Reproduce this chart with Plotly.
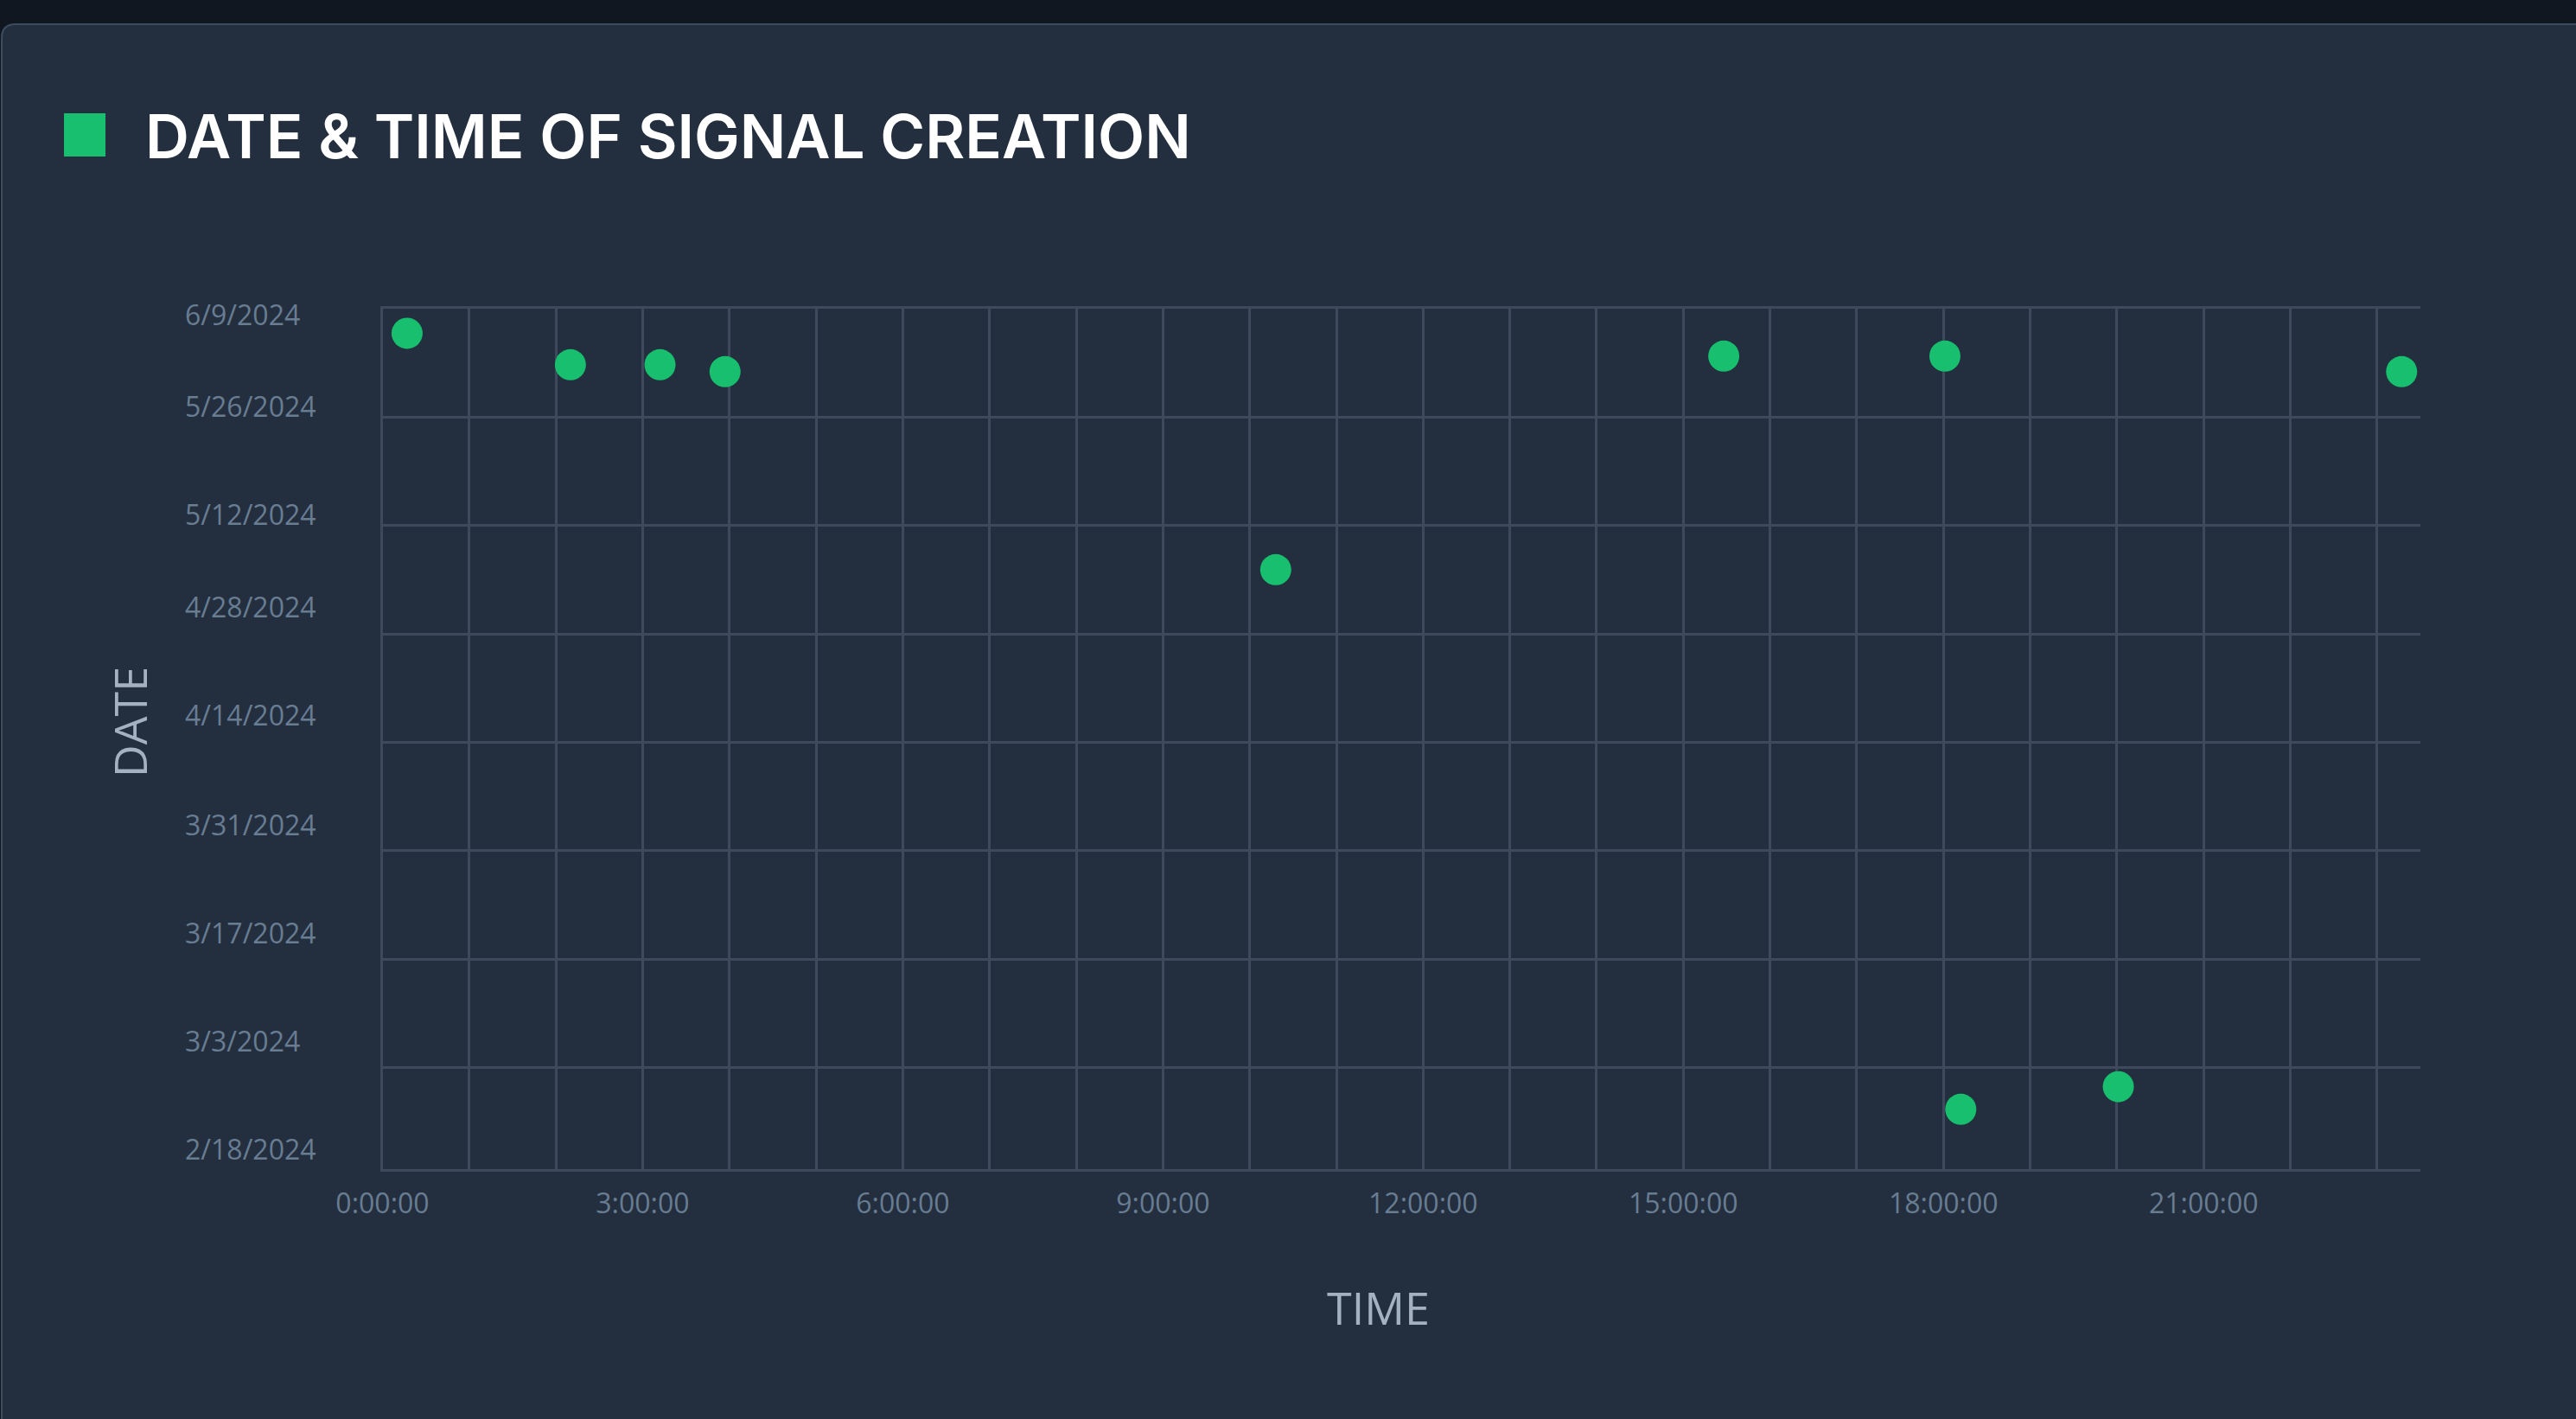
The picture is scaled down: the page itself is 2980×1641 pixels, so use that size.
import pandas as pd
import plotly.graph_objects as go

# ---------------- data ----------------
signal_times = ["00:17", "02:10", "03:12", "03:57", "10:18",
                "15:28", "18:01", "23:17", "18:12", "20:01"]
signal_dates = ["2024-06-05 19:40", "2024-06-01 18:20", "2024-06-01 18:20",
                "2024-05-31 20:50", "2024-05-06 07:10", "2024-06-02 21:05",
                "2024-06-02 21:05", "2024-05-31 20:50", "2024-02-26 15:00",
                "2024-02-29 13:10"]
date_tick_values = ["2024-02-18", "2024-03-03", "2024-03-17", "2024-03-31",
                    "2024-04-14", "2024-04-28", "2024-05-12", "2024-05-26",
                    "2024-06-09"]
date_tick_labels = ["2/18/2024", "3/3/2024", "3/17/2024", "3/31/2024",
                    "4/14/2024", "4/28/2024", "5/12/2024", "5/26/2024",
                    "6/9/2024"]
title_text = "DATE & TIME OF SIGNAL CREATION"
x_title = "TIME"
y_title = "DATE"

# ---------------- styling ----------------
W, H = 2980, 1641
ML, MR, MT, MB = 200, 180, 357, 289
PW, PH = W - ML - MR, H - MT - MB

def X(px):
    return (px - ML) / PW

def Y(py):
    return (H - MB - py) / PH

PAGE_BG = "#101720"
CARD_BG = "#232f3e"
CARD_BORDER = "#3b4c5f"
GRID = "#3e4a5c"
GREEN = "#17bf6f"
TICK_COLOR = "#687c92"
TITLE_COLOR = "#a3b1c0"

# visual offsets (days) of the date labels relative to their grid lines
label_offset_days = [3.33, 3.36, 3.32, 3.28, 3.38, 3.42, 1.29, 1.26, -0.84]

base_day = "2024-01-01 "
x_vals = [base_day + t for t in signal_times]
y_vals = pd.to_datetime(signal_dates)
label_pos = [pd.Timestamp(d) + pd.Timedelta(days=o)
             for d, o in zip(date_tick_values, label_offset_days)]

fig = go.Figure()
fig.add_trace(go.Scatter(
    x=x_vals, y=y_vals, mode="markers",
    marker=dict(size=36, color=GREEN, line=dict(width=0)),
    showlegend=False,
    hovertemplate="%{x|%H:%M}<br>%{y|%-m/%-d/%Y}<extra></extra>",
))
# invisible trace to activate label axis
fig.add_trace(go.Scatter(x=[x_vals[0]], y=[y_vals[0]], yaxis="y2",
                         mode="markers", marker=dict(opacity=0),
                         showlegend=False, hoverinfo="skip"))

fig.update_layout(
    width=W, height=H,
    margin=dict(l=ML, r=MR, t=MT, b=MB, autoexpand=False),
    paper_bgcolor=PAGE_BG,
    plot_bgcolor=CARD_BG,
    xaxis=dict(
        type="date",
        domain=[X(442.5), 1],
        range=[base_day + "00:00:00", base_day + "23:30:00"],
        tick0=base_day + "00:00:00",
        dtick=3 * 3600000,
        tickformat="%-H:%M:%S",
        showgrid=True, gridcolor=GRID, gridwidth=3,
        minor=dict(dtick=3600000, showgrid=True, gridcolor=GRID,
                   gridwidth=3, ticks=""),
        showline=True, linecolor=GRID, linewidth=3, mirror=True,
        zeroline=False, ticks="", ticklabelstandoff=10,
        tickfont=dict(family="Open Sans", size=32, color=TICK_COLOR),
    ),
    yaxis=dict(
        type="date",
        range=["2024-02-18 21:36", "2024-06-09 00:00"],
        tickvals=date_tick_values,
        showticklabels=False,
        showgrid=True, gridcolor=GRID, gridwidth=3,
        showline=True, linecolor=GRID, linewidth=3,
        zeroline=False, ticks="",
    ),
    yaxis2=dict(
        type="date",
        overlaying="y", matches="y",
        anchor="free", position=X(210), side="left",
        tickvals=label_pos, ticktext=date_tick_labels,
        ticklabelposition="inside", ticklabeloverflow="allow",
        showgrid=False, showline=False, zeroline=False, ticks="",
        tickfont=dict(family="Open Sans", size=32, color=TICK_COLOR),
    ),
    shapes=[
        dict(type="path", xref="paper", yref="paper", layer="below",
             path=(f"M {X(2)},{Y(1700)} L {X(2)},{Y(44)} "
                   f"Q {X(2)},{Y(28)} {X(18)},{Y(28)} "
                   f"L {X(3000)},{Y(28)} L {X(3000)},{Y(1700)} Z"),
             fillcolor=CARD_BG, line=dict(color=CARD_BORDER, width=2)),
        dict(type="rect", xref="paper", yref="paper",
             x0=X(74), x1=X(122), y0=Y(181), y1=Y(131),
             fillcolor=GREEN, line=dict(width=0)),
    ],
    annotations=[
        dict(text=title_text, xref="paper", yref="paper",
             x=X(166), y=Y(157), xanchor="left", yanchor="middle",
             showarrow=False,
             font=dict(family="Inter", size=70.5, weight=600, color="white")),
        dict(text=y_title, xref="paper", yref="paper",
             x=X(149), y=Y(835), xanchor="center", yanchor="middle",
             textangle=-90, showarrow=False,
             font=dict(family="Open Sans", size=52, color=TITLE_COLOR)),
        dict(text=x_title, xref="paper", yref="paper",
             x=X(1594), y=Y(1511), xanchor="center", yanchor="middle",
             showarrow=False,
             font=dict(family="Open Sans", size=52, color=TITLE_COLOR)),
    ],
)

fig.write_html(
    "out.html",
    config={"displayModeBar": False},
    post_script=("document.body.style.margin='0';"
                 "document.body.style.padding='0';"
                 "document.body.style.background='%s';" % PAGE_BG),
)
